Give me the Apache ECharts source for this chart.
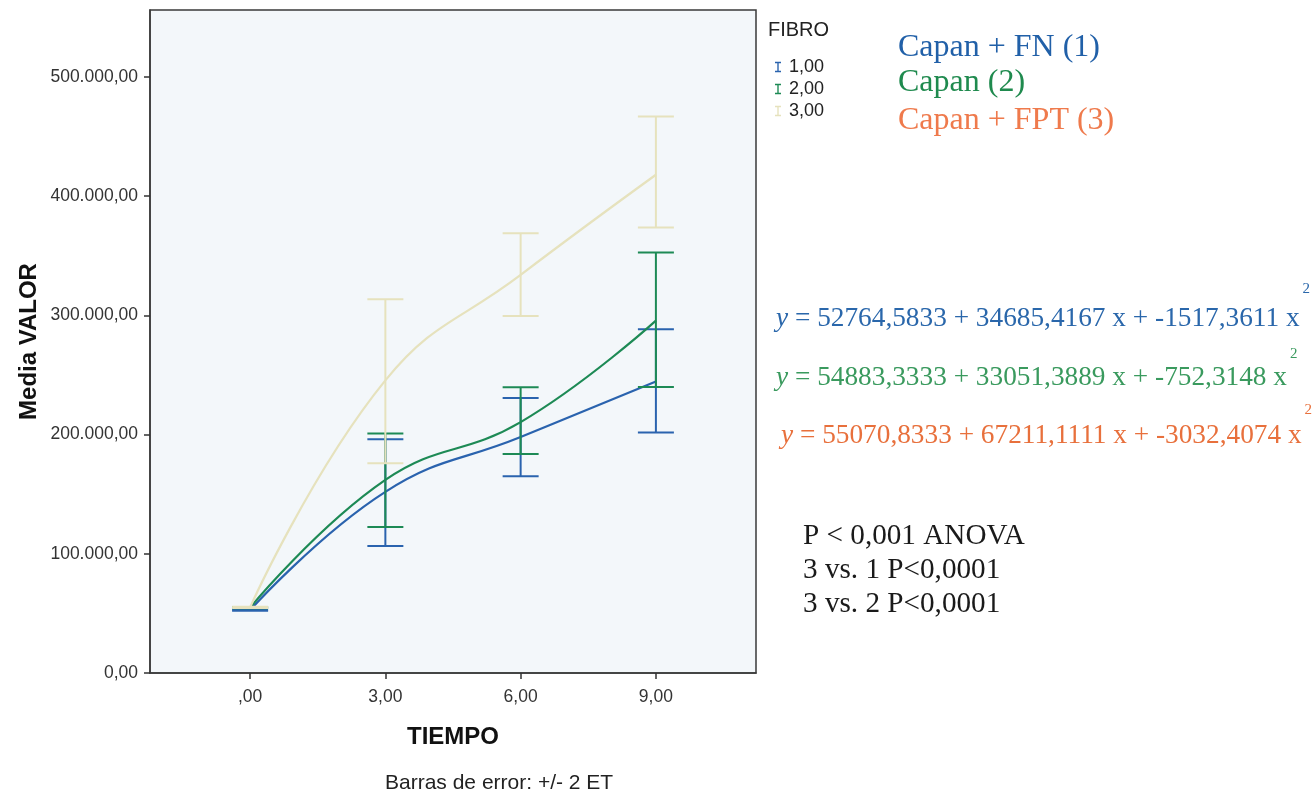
<!DOCTYPE html>
<html>
<head>
<meta charset="utf-8">
<script src="https://cdn.jsdelivr.net/npm/echarts@6/dist/echarts.min.js"></script>
<style>
  html, body { margin: 0; padding: 0; background: #fff; }
  #main { width: 1316px; height: 793px; }
</style>
</head>
<body>
<div id="main"></div>
<script>
// tiempos
const tiempo = [0, 3, 6, 9]
// medias por grupo de FIBRO
const media1 = [52765, 152000, 198000, 244500]
const media2 = [54883, 162000, 210500, 295600]
const media3 = [55070, 245500, 334000, 418000]
// barras de error (+/- 2 ET)
const bajo1 = [52200, 106500, 165000, 201800]
const alto1 = [53300, 196000, 230700, 288300]
const bajo2 = [54300, 122500, 183700, 240000]
const alto2 = [55400, 201000, 239700, 352800]
const bajo3 = [54500, 176000, 299500, 373700]
const alto3 = [55600, 313500, 369000, 466800]
// etiquetas de ejes
const xTicks = [0, 3, 6, 9]
const yTicks = [0, 100000, 200000, 300000, 400000, 500000]

const colores = ['#2a63ae', '#1d8a55', '#e6e2bd']
const nombres = ['1,00', '2,00', '3,00']

function fmtNum(v) {
  // formato español: 500.000,00
  let s = Math.round(v).toString().replace(/\B(?=(\d{3})+(?!\d))/g, '.')
  return s + ',00'
}
function fmtX(v) {
  return v === 0 ? ',00' : v + ',00'
}

function linea(idx, medias) {
  return {
    name: nombres[idx],
    type: 'line',
    data: tiempo.map((t, i) => [t, medias[i]]),
    smooth: 0.45,
    showSymbol: false,
    lineStyle: { color: colores[idx], width: 2.2 },
    itemStyle: { color: colores[idx] },
    z: 3 + idx
  }
}

function errores(idx, bajo, alto) {
  return {
    name: nombres[idx],
    type: 'custom',
    data: tiempo.map((t, i) => [t, bajo[i], alto[i]]),
    itemStyle: { color: colores[idx] },
    z: 3 + idx,
    renderItem(params, api) {
      const x = api.value(0)
      const lo = api.coord([x, api.value(1)])
      const hi = api.coord([x, api.value(2)])
      const w = 18
      const st = { stroke: colores[idx], lineWidth: 2 }
      return {
        type: 'group',
        children: [
          { type: 'line', shape: { x1: hi[0], y1: hi[1], x2: lo[0], y2: lo[1] }, style: st },
          { type: 'line', shape: { x1: hi[0] - w, y1: hi[1], x2: hi[0] + w, y2: hi[1] }, style: st },
          { type: 'line', shape: { x1: lo[0] - w, y1: lo[1], x2: lo[0] + w, y2: lo[1] }, style: st }
        ]
      }
    }
  }
}

const iconoI = 'path://M0,0h7v1.6h-2.7v8.8h2.7v1.6h-7v-1.6h2.7v-8.8h-2.7z'

const serif = '"Liberation Serif", "DejaVu Serif", serif'
const sans = '"Liberation Sans", Arial, sans-serif'

// ecuaciones de ajuste cuadrático
function ecuacion(left, top, color, a, b, c, subir) {
  return {
    type: 'text',
    left: left,
    top: top,
    style: {
      text: '{i|y} = ' + a + ' + ' + b + ' x + ' + c + ' x{s|2}',
      fill: color,
      font: '27.3px ' + serif,
      rich: {
        i: { fontStyle: 'italic', fontSize: 27.3, fontFamily: serif, fill: color },
        s: { fontSize: 15, fontFamily: serif, fill: color, verticalAlign: 'top', padding: [0, 0, subir, 3] }
      }
    }
  }
}

const option = {
  backgroundColor: '#ffffff',
  animation: false,
  grid: {
    left: 150, top: 10, right: 560, bottom: 120,
    show: true,
    backgroundColor: '#f3f7fa',
    borderColor: '#3a3a3a',
    borderWidth: 1.5,
    containLabel: false,
    outerBoundsMode: 'none'
  },
  legend: {
    orient: 'vertical',
    left: 770,
    top: 53,
    itemWidth: 6,
    itemHeight: 12,
    itemGap: 4,
    textStyle: { fontSize: 18, color: '#222', fontFamily: sans, padding: [0, 0, 0, 3] },
    data: nombres.map(n => ({ name: n, icon: iconoI }))
  },
  xAxis: {
    type: 'value',
    min: -2.22,
    max: 11.22,
    name: 'TIEMPO',
    nameLocation: 'middle',
    nameGap: 52,
    nameTextStyle: { fontSize: 24, fontWeight: 'bold', color: '#111', fontFamily: sans },
    axisLine: { show: true, lineStyle: { color: '#3a3a3a', width: 1.5 } },
    axisTick: { show: true, length: 6, customValues: xTicks, lineStyle: { color: '#333', width: 1.5 } },
    axisLabel: { customValues: xTicks, formatter: fmtX, fontSize: 17.5, color: '#333', margin: 15, fontFamily: sans },
    splitLine: { show: false }
  },
  yAxis: {
    type: 'value',
    min: 0,
    max: 556200,
    name: 'Media VALOR',
    nameLocation: 'middle',
    nameGap: 109,
    nameRotate: 90,
    nameTextStyle: { fontSize: 24, fontWeight: 'bold', color: '#111', fontFamily: sans },
    axisLine: { show: true, onZero: false, lineStyle: { color: '#3a3a3a', width: 1.5 } },
    axisTick: { show: true, length: 6, customValues: yTicks, lineStyle: { color: '#333', width: 1.5 } },
    axisLabel: { customValues: yTicks, formatter: fmtNum, fontSize: 17.5, color: '#333', margin: 12, fontFamily: sans },
    splitLine: { show: false }
  },
  series: [
    linea(2, media3), errores(2, bajo3, alto3),
    linea(0, media1), errores(0, bajo1, alto1),
    linea(1, media2), errores(1, bajo2, alto2)
  ],
  graphic: [
    { type: 'text', left: 768, top: 20, style: { text: 'FIBRO', font: '20px ' + sans, fill: '#222' } },
    { type: 'text', left: 898, top: 32, style: { text: 'Capan + FN (1)', font: '32px ' + serif, fill: '#2160a8' } },
    { type: 'text', left: 898, top: 67, style: { text: 'Capan (2)', font: '32px ' + serif, fill: '#1f8a4e' } },
    { type: 'text', left: 898, top: 105, style: { text: 'Capan + FPT (3)', font: '32px ' + serif, fill: '#ef7a4c' } },
    ecuacion(776, 282, '#2a67ab', '52764,5833', '34685,4167', '-1517,3611', 58),
    ecuacion(776, 347, '#3a9a5e', '54883,3333', '33051,3889', '-752,3148', 46),
    ecuacion(781, 403, '#e8703c', '55070,8333', '67211,1111', '-3032,4074', 50),
    { type: 'text', left: 803, top: 522, style: { text: 'P < 0,001 ANOVA', font: '29.2px ' + serif, fill: '#1a1a1a' } },
    { type: 'text', left: 803, top: 556, style: { text: '3 vs. 1 P<0,0001', font: '29.2px ' + serif, fill: '#1a1a1a' } },
    { type: 'text', left: 803, top: 590, style: { text: '3 vs. 2 P<0,0001', font: '29.2px ' + serif, fill: '#1a1a1a' } },
    { type: 'text', left: 385, top: 773, style: { text: 'Barras de error: +/- 2 ET', font: '21px ' + sans, fill: '#222' } }
  ]
}

const chart = echarts.init(document.getElementById('main'))
chart.setOption(option)
</script>
</body>
</html>
